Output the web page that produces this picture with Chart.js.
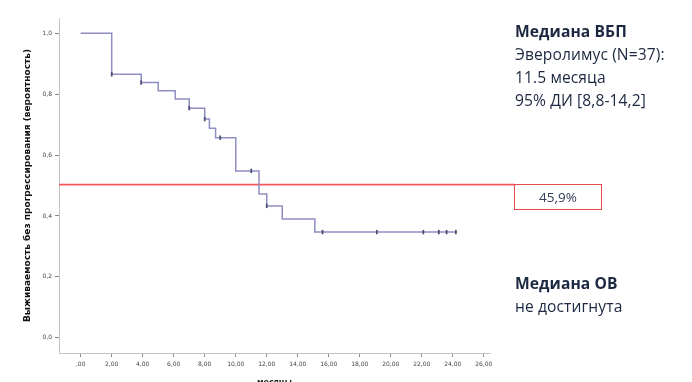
<!DOCTYPE html>
<html>
<head>
<meta charset="utf-8">
<script src="https://cdn.jsdelivr.net/npm/chart.js@4/dist/chart.umd.min.js"></script>
<style>
  html, body { margin: 0; padding: 0; background: #ffffff; }
  #wrap { position: relative; width: 692px; height: 382px; overflow: hidden; background: #ffffff; }
  #c { position: absolute; left: 0; top: 0; }
  .txt { position: absolute; font-family: "Open Sans", sans-serif; color: #1c2740; white-space: nowrap; font-size: 15.6px; line-height: 23px; letter-spacing: 0.1px; }
  .bold { font-weight: 700; }
  #box { position: absolute; left: 514px; top: 184px; width: 86px; height: 24px; border: 1.5px solid #ea4a4e; box-sizing: content-box;
         font-family: "Open Sans", sans-serif; font-size: 13.5px; color: #34405a; text-align: center; line-height: 25px; }
</style>
</head>
<body>
<div id="wrap">
  <canvas id="c" width="692" height="382"></canvas>
  <div class="txt" style="left:515px; top:20px;">
    <span class="bold">Медиана ВБП</span><br>
    Эверолимус (N=37):<br>
    11.5 месяца<br>
    95% ДИ [8,8-14,2]
  </div>
  <div id="box">45,9%</div>
  <div class="txt" style="left:515px; top:272px;">
    <span class="bold">Медиана ОВ</span><br>
    не достигнута
  </div>
</div>
<script>
// Kaplan–Meier curve (time in months, survival probability)
const kmTimes    = [0,   2.0,   3.9,   5.0,   6.1,   7.0,   8.0,   8.3,   8.7,   10.0,  11.5,  12.0,  13.0,  15.1,  24.2];
const kmSurvival = [1.0, 0.865, 0.838, 0.811, 0.784, 0.754, 0.718, 0.688, 0.657, 0.548, 0.472, 0.433, 0.390, 0.347, 0.347];
// Censored observations
const censorTimes    = [2.0,   3.9,   7.0,   8.0,   9.0,   11.0,  12.0,  15.6,  19.1,  22.1,  23.1,  23.6,  24.2];
const censorSurvival = [0.865, 0.838, 0.754, 0.718, 0.657, 0.548, 0.433, 0.347, 0.347, 0.347, 0.347, 0.347, 0.347];
// Median reference line
const medianLevel = 0.503;
const medianLineTimes = [-1.4, 28.0];
// Axis ticks
const xTickValues = [0, 2, 4, 6, 8, 10, 12, 14, 16, 18, 20, 22, 24, 26];
const xTickLabels = [',00', '2,00', '4,00', '6,00', '8,00', '10,00', '12,00', '14,00', '16,00', '18,00', '20,00', '22,00', '24,00', '26,00'];
const yTickValues = [0, 0.2, 0.4, 0.6, 0.8, 1.0];
const yTickLabels = ['0,0', '0,2', '0,4', '0,6', '0,8', '1,0'];
const xTitle = 'месяцы';
const yTitle = 'Выживаемость без прогрессирования (вероятность)';

const kmData = kmTimes.map((t, i) => ({ x: t, y: kmSurvival[i] }));
const censorData = censorTimes.map((t, i) => ({ x: t, y: censorSurvival[i] }));
const medianData = medianLineTimes.map(t => ({ x: t, y: medianLevel }));

new Chart(document.getElementById('c'), {
  type: 'scatter',
  data: {
    datasets: [
      {
        type: 'line',
        data: medianData,
        borderColor: '#f0585a',
        borderWidth: 1.8,
        pointRadius: 0,
        clip: false,
        order: 3
      },
      {
        type: 'line',
        data: kmData,
        stepped: true,
        borderColor: '#8e8ec2',
        borderWidth: 1.5,
        pointRadius: 0,
        fill: false,
        order: 2
      },
      {
        type: 'scatter',
        data: censorData,
        pointStyle: 'line',
        rotation: 90,
        pointRadius: 2.2,
        borderColor: '#4f5078',
        borderWidth: 1.8,
        order: 1
      }
    ]
  },
  options: {
    responsive: false,
    animation: false,
    events: [],
    layout: { padding: { left: 0, right: 202, top: 18, bottom: 0 } },
    plugins: { legend: { display: false }, tooltip: { enabled: false } },
    scales: {
      x: {
        type: 'linear',
        min: -1.4,
        max: 26.4,
        afterBuildTicks: s => { s.ticks = xTickValues.map(v => ({ value: v })); },
        afterFit: s => { s.height = 29; },
        grid: { drawOnChartArea: false, drawTicks: true, tickLength: 4, color: '#8a8a8a' },
        border: { display: true, color: '#c4c4c4', width: 1 },
        ticks: {
          autoSkip: false,
          maxRotation: 0,
          padding: 4,
          color: '#444',
          font: { family: 'DejaVu Sans', size: 6 },
          callback: (v) => { const i = xTickValues.indexOf(v); return i >= 0 ? xTickLabels[i] : ''; }
        },
        title: { display: true, text: xTitle, color: '#222', font: { family: 'DejaVu Sans', size: 8, weight: 'bold' }, padding: { top: 0, bottom: -6 } }
      },
      y: {
        type: 'linear',
        min: -0.05,
        max: 1.05,
        afterBuildTicks: s => { s.ticks = yTickValues.map(v => ({ value: v })); },
        afterFit: s => { s.width = 59; },
        grid: { drawOnChartArea: false, drawTicks: true, tickLength: 4, color: '#8a8a8a' },
        border: { display: true, color: '#c4c4c4', width: 1 },
        ticks: {
          autoSkip: false,
          padding: 3,
          color: '#444',
          font: { family: 'DejaVu Sans', size: 6 },
          callback: (v) => { const i = yTickValues.findIndex(t => Math.abs(t - v) < 1e-9); return i >= 0 ? yTickLabels[i] : ''; }
        },
        title: { display: true, text: yTitle, color: '#111', font: { family: 'DejaVu Sans', size: 9, weight: 'bold' }, padding: { top: 22, bottom: 0 } }
      }
    }
  }
});
</script>
</body>
</html>
